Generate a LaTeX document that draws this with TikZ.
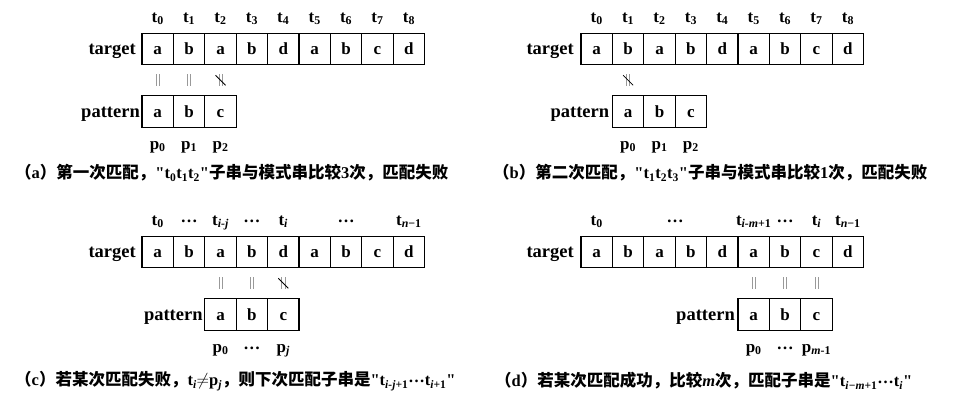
\documentclass[tikz,border=0pt]{standalone}
\usepackage{fontspec}
\setmainfont{Liberation Serif}[Ligatures=TeXOff]
\newfontfamily\cjk{Noto Sans CJK SC}
\usetikzlibrary{positioning,calc}

\newcommand{\tsub}[1]{t\textsubscript{#1}}
\newcommand{\psub}[1]{p\textsubscript{#1}}
\newcommand{\mdots}{\raisebox{0.18em}{…}}

\begin{document}
\begin{tikzpicture}[
    x=1pt, y=-1pt,
    cell/.style={draw=black, line width=1.3pt, rectangle, minimum size=31.4pt, inner sep=0pt, outer sep=0pt, text height=11.5pt, text depth=0pt, font=\bfseries\fontsize{17}{20}\selectfont},
    idx/.style={font=\bfseries\fontsize{17}{20}\selectfont, inner sep=1pt, text height=12pt, text depth=4pt},
    rowlab/.style={font=\bfseries\fontsize{18.5}{20}\selectfont, inner sep=0pt, anchor=base east},
    caption/.style={anchor=west, inner sep=0pt, font=\bfseries\fontsize{16.5}{18}\selectfont},
    eqline/.style={draw=gray!80, line width=0.7pt},
    slashline/.style={draw=black, line width=0.8pt},
    eqmark/.pic={\draw[eqline] (-1.6,-6) -- (-1.6,6) (1.6,-6) -- (1.6,6);},
    neqmark/.pic={\draw[eqline] (-1.6,-6) -- (-1.6,6) (1.6,-6) -- (1.6,6);
                  \draw[slashline] (-5,-5) -- (5,5);}
]
  \useasboundingbox (0,0) rectangle (960,403);

  % (a) first match
  \foreach \ch [count=\k from 0] in {a,b,a,b,d,a,b,c,d}
    \node[cell] (at\k) at ({157.7+\k*31.4}, 49) {\ch};
  \foreach \ch [count=\k from 0] in {a,b,c}
    \node[cell] (ap\k) at ({157.7+\k*31.4}, 111.5) {\ch};
  \foreach \k in {0,...,8}
    \node[idx, above=6pt of at\k] (atl\k) {\tsub{\k}};
  \foreach \k in {0,1,2}
    \node[idx, below=9pt of ap\k] (apl\k) {\psub{\k}};
  \node[rowlab, left=6pt of at0.base west, anchor=base east] (atarget) {target};
  \node[rowlab, left=2pt of ap0.base west, anchor=base east] (apattern) {pattern};
  \pic at ($(at0.south)!0.5!(ap0.north)$) {eqmark};
  \pic at ($(at1.south)!0.5!(ap1.north)$) {eqmark};
  \pic at ($(at2.south)!0.5!(ap2.north)$) {neqmark};
  \node[caption] (acap) at (15,173) {{\cjk （}a{\cjk ）第一次匹配，}"\tsub{0}\tsub{1}\tsub{2}"{\cjk 子串与模式串比较}3{\cjk 次，匹配失败}};

  % (b) second match
  \foreach \ch [count=\k from 0] in {a,b,a,b,d,a,b,c,d}
    \node[cell] (bt\k) at ({596.7+\k*31.4}, 49) {\ch};
  \foreach \ch [count=\k from 0] in {a,b,c}
    \node[cell] (bp\k) at ({628.1+\k*31.4}, 111.5) {\ch};
  \foreach \k in {0,...,8}
    \node[idx, above=6pt of bt\k] (btl\k) {\tsub{\k}};
  \foreach \k in {0,1,2}
    \node[idx, below=9pt of bp\k] (bpl\k) {\psub{\k}};
  \node[rowlab, left=7pt of bt0.base west, anchor=base east] (btarget) {target};
  \node[rowlab, left=3pt of bp0.base west, anchor=base east] (bpattern) {pattern};
  \pic at ($(bt1.south)!0.5!(bp0.north)$) {neqmark};
  \node[caption] (bcap) at (493,173) {{\cjk （}b{\cjk ）第二次匹配，}"\tsub{1}\tsub{2}\tsub{3}"{\cjk 子串与模式串比较}1{\cjk 次，匹配失败}};

  % (c) mismatch at t_i
  \foreach \ch [count=\k from 0] in {a,b,a,b,d,a,b,c,d}
    \node[cell] (ct\k) at ({157.7+\k*31.4}, 252) {\ch};
  \foreach \ch [count=\k from 0] in {a,b,c}
    \node[cell] (cp\k) at ({220.5+\k*31.4}, 314.5) {\ch};
  \node[idx, above=6pt of ct0] (ctl0) {\tsub{0}};
  \node[idx, above=6pt of ct1] (ctl1) {\mdots};
  \node[idx, above=6pt of ct2] (ctl2) {\tsub{\textit{i-j}}};
  \node[idx, above=6pt of ct3] (ctl3) {\mdots};
  \node[idx, above=6pt of ct4] (ctl4) {\tsub{\textit{i}}};
  \node[idx, above=6pt of ct6] (ctl6) {\mdots};
  \node[idx, above=6pt of ct8] (ctl8) {\tsub{\textit{n}−1}};
  \node[idx, below=9pt of cp0] (cpl0) {\psub{0}};
  \node[idx, below=9pt of cp1] (cpl1) {\mdots};
  \node[idx, below=9pt of cp2] (cpl2) {\psub{\textit{j}}};
  \node[rowlab, left=6pt of ct0.base west, anchor=base east] (ctarget) {target};
  \node[rowlab, left=2pt of cp0.base west, anchor=base east] (cpattern) {pattern};
  \pic at ($(ct2.south)!0.5!(cp0.north)$) {eqmark};
  \pic at ($(ct3.south)!0.5!(cp1.north)$) {eqmark};
  \pic at ($(ct4.south)!0.5!(cp2.north)$) {neqmark};
  \node[caption] (ccap) at (15,381) {{\cjk （}c{\cjk ）若某次匹配失败，}\tsub{\textit{i}}$\neq$\psub{\textit{j}}{\cjk ，则下次匹配子串是}"\tsub{\textit{i-j}+1}\mdots\tsub{\textit{i}+1}"};

  % (d) successful match
  \foreach \ch [count=\k from 0] in {a,b,a,b,d,a,b,c,d}
    \node[cell] (dt\k) at ({596.7+\k*31.4}, 252) {\ch};
  \foreach \ch [count=\k from 0] in {a,b,c}
    \node[cell] (dp\k) at ({753.7+\k*31.4}, 314.5) {\ch};
  \node[idx, above=6pt of dt0] (dtl0) {\tsub{0}};
  \node[idx, above=6pt of dt2.north east] (dtl2) {\mdots};
  \node[idx, above=6pt of dt5] (dtl5) {\tsub{\textit{i-m}+1}};
  \node[idx, above=6pt of dt6] (dtl6) {\mdots};
  \node[idx, above=6pt of dt7] (dtl7) {\tsub{\textit{i}}};
  \node[idx, above=6pt of dt8] (dtl8) {\tsub{\textit{n}−1}};
  \node[idx, below=9pt of dp0] (dpl0) {\psub{0}};
  \node[idx, below=9pt of dp1] (dpl1) {\mdots};
  \node[idx, below=9pt of dp2] (dpl2) {\psub{\textit{m}-1}};
  \node[rowlab, left=7pt of dt0.base west, anchor=base east] (dtarget) {target};
  \node[rowlab, left=3pt of dp0.base west, anchor=base east] (dpattern) {pattern};
  \pic at ($(dt5.south)!0.5!(dp0.north)$) {eqmark};
  \pic at ($(dt6.south)!0.5!(dp1.north)$) {eqmark};
  \pic at ($(dt7.south)!0.5!(dp2.north)$) {eqmark};
  \node[caption] (dcap) at (495,381) {{\cjk （}d{\cjk ）若某次匹配成功，比较}\textit{m}{\cjk 次，匹配子串是}"\tsub{\textit{i−m}+1}\mdots\tsub{\textit{i}}"};
\end{tikzpicture}
\end{document}
